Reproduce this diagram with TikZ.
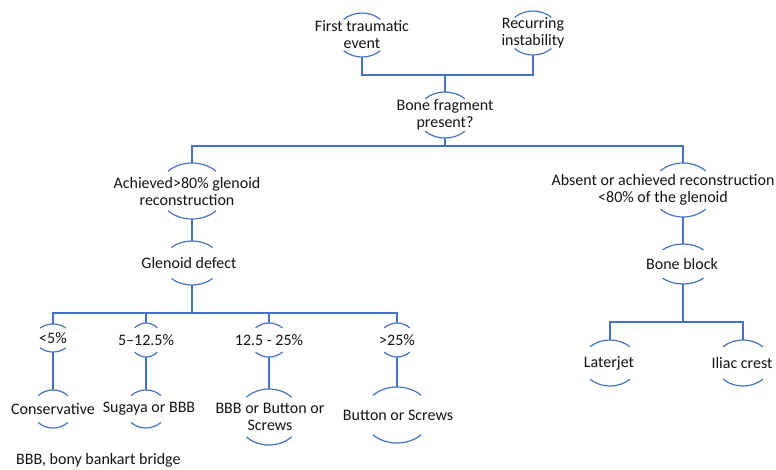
\documentclass[tikz,border=0pt]{standalone}
\usepackage{fontspec}
\setmainfont{Carlito}
\usepackage{tikz}

\definecolor{lineblue}{RGB}{68,114,196}
\definecolor{txtgray}{RGB}{20,20,20}

% top and bottom arcs round a text node (optional x offset), plus its two ends
\newcommand{\capcup}[4][0]{%
  \coordinate (#2-c) at ([shift={(#1,0)}]#2.center);
  \draw[link] ([shift={(45:#3 and #4)}]#2-c) arc[start angle=45,end angle=135,x radius=#3,y radius=#4];
  \draw[link] ([shift={(225:#3 and #4)}]#2-c) arc[start angle=225,end angle=315,x radius=#3,y radius=#4];
  \coordinate (#2-t) at ([shift={(0,-#4)}]#2-c);
  \coordinate (#2-b) at ([shift={(0,#4)}]#2-c);
}

\begin{document}
\begin{tikzpicture}[x=1pt,y=-1pt,
  link/.style={color=lineblue,line width=1.2pt},
  txt/.style={inner sep=0pt,align=center,text=txtgray,font=\fontsize{16}{17}\selectfont}]
\useasboundingbox (0,0) rectangle (776,469);

% Text Node
\node[txt] (first) at (362,35) {First traumatic\\event};
% Text Node
\node[txt] (recur) at (533,33) {Recurring\\instability};
% Text Node
\node[txt] (frag) at (445,115) {Bone fragment\\present?};
% Text Node
\node[txt] (achv) at (187,191) {Achieved>80\% glenoid\\reconstruction};
% Text Node
\node[txt] (defect) at (189,263) {Glenoid defect};
% Text Node
\node[txt] (absent) at (663,190) {Absent or achieved reconstruction\\<80\% of the glenoid};
% Text Node
\node[txt] (block) at (682,264) {Bone block};
% Text Node
\node[txt] (lt5) at (53,338) {<5\%};
% Text Node
\node[txt] (mid) at (146,340) {5--12.5\%};
% Text Node
\node[txt] (high) at (269,340) {12.5 - 25\%};
% Text Node
\node[txt] (gt25) at (397,340) {>25\%};
% Text Node
\node[txt] (cons) at (53,409) {Conservative};
% Text Node
\node[txt] (sugaya) at (149,409) {Sugaya or BBB};
% Text Node
\node[txt] (bbb) at (270,417) {BBB or Button or\\Screws};
% Text Node
\node[txt] (button) at (398,415) {Button or Screws};
% Text Node
\node[txt] (laterjet) at (609,363) {Laterjet};
% Text Node
\node[txt] (iliac) at (742,363) {Iliac crest};
% Text Node
\node[txt,anchor=west] (note) at (16,460) {BBB, bony bankart bridge};

% arcs
\capcup{first}{26}{22}
\capcup{recur}{26}{22}
\capcup{frag}{28}{23}
\capcup[5]{achv}{34}{28}
\capcup[3]{defect}{29}{22}
\capcup[20]{absent}{32}{27}
\capcup[1]{block}{29}{20}
\capcup{lt5}{18}{14}
\capcup{mid}{16}{17}
\capcup{high}{19}{17}
\capcup{gt25}{18}{17}
\capcup{cons}{21}{19}
\capcup[-3]{sugaya}{21}{19}
\capcup[-1]{bbb}{32}{28}
\capcup[-1]{button}{34}{28}
\capcup[1]{laterjet}{28}{23}
\capcup[1]{iliac}{28}{23}

% junctions
\coordinate (j1) at (445,75);
\coordinate (j2) at (445,146);
\coordinate (j3) at (192,313);
\coordinate (j4) at (683,322);

% connectors
\draw[link] (first-b) |- (j1) -| (recur-b);
\draw[link] (j1) -- (frag-t);
\draw[link] (frag-b) -- (j2);
\draw[link] (j2) -| (achv-t);
\draw[link] (j2) -| (absent-t);
\draw[link] (achv-b) -- (defect-t);
\draw[link] (absent-b) -- (block-t);
\draw[link] (defect-b) -- (j3);
\foreach \n in {lt5,mid,high,gt25}
  \draw[link] (j3) -| (\n-t);
\draw[link] (lt5-b) -- (cons-t);
\draw[link] (mid-b) -- (sugaya-t);
\draw[link] (high-b) -- (bbb-t);
\draw[link] (gt25-b) -- (button-t);
\draw[link] (block-b) -- (j4);
\draw[link] (j4) -| (laterjet-t);
\draw[link] (j4) -| (iliac-t);

\end{tikzpicture}
\end{document}
